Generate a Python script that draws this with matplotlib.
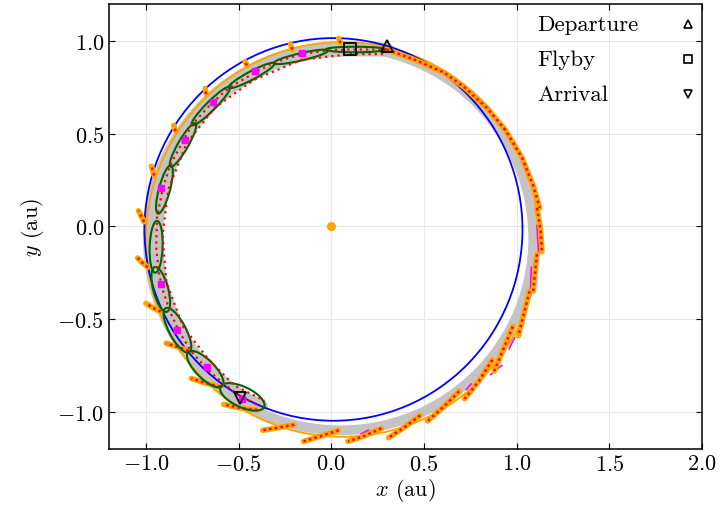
import matplotlib
matplotlib.use("Agg")
import matplotlib.pyplot as plt
from matplotlib.patches import Ellipse

matplotlib.rcParams['font.family'] = 'serif'
matplotlib.rcParams['font.serif'] = ['cmr10']
matplotlib.rcParams['mathtext.fontset'] = 'cm'
matplotlib.rcParams['axes.formatter.use_mathtext'] = True
matplotlib.rcParams['font.size'] = 16

# orbits: (centre x, centre y, width, height)
earth_orbit = (0.012, -0.016, 2.04, 2.065)
target_orbit = (0.06, -0.07, 2.12, 2.13)
band_orbit = (0.05, -0.065, 2.08, 2.07)

# nominal inner transfer path (departure -> flyby -> arrival)
inner_x = [0.30, 0.10, -0.02, -0.16, -0.31, -0.43, -0.55, -0.65, -0.75, -0.80, -0.87, -0.91,
           -0.94, -0.945, -0.93, -0.91, -0.87, -0.82, -0.75, -0.67, -0.58, -0.48, -0.38]
inner_y = [0.955, 0.955, 0.95, 0.93, 0.885, 0.82, 0.75, 0.66, 0.55, 0.46, 0.33, 0.20,
           0.05, -0.11, -0.25, -0.34, -0.46, -0.57, -0.68, -0.77, -0.85, -0.925, -0.97]
inner2_x = [0.28, 0.10, -0.16, -0.42, -0.63, -0.78, -0.88, -0.91, -0.89, -0.80, -0.66, -0.52, -0.36]
inner2_y = [0.93, 0.93, 0.90, 0.79, 0.64, 0.45, 0.20, -0.05, -0.30, -0.54, -0.72, -0.86, -0.94]

# node positions along the inner path
node_x = [-0.16, -0.41, -0.64, -0.79, -0.92, -0.92, -0.83, -0.67, -0.48]
node_y = [0.935, 0.84, 0.67, 0.465, 0.205, -0.31, -0.56, -0.76, -0.93]

# uncertainty ellipses: centre, major, minor, angle (deg)
ell_cx = [0.13, -0.165, -0.43, -0.65, -0.80, -0.90, -0.945, -0.92, -0.83, -0.68, -0.48]
ell_cy = [0.955, 0.915, 0.815, 0.65, 0.44, 0.20, -0.11, -0.34, -0.56, -0.77, -0.92]
ell_w = [0.32, 0.30, 0.28, 0.29, 0.27, 0.27, 0.28, 0.25, 0.27, 0.26, 0.26]
ell_h = [0.03, 0.04, 0.045, 0.05, 0.055, 0.06, 0.07, 0.08, 0.09, 0.10, 0.11]
ell_ang = [0, 13, 28, 45, 60, 75, 88, 105, 118, 135, 155]

# outer arcs of the propagated trajectory
arcs = [
    ([0.30, 0.45, 0.61, 0.72, 0.84, 0.94, 1.03, 1.09, 1.125],
     [0.955, 0.90, 0.83, 0.75, 0.64, 0.52, 0.37, 0.22, 0.10]),
    ([1.11, 1.13, 1.137], [0.10, -0.02, -0.135]),
    ([1.11, 1.10, 1.09], [-0.15, -0.25, -0.35]),
    ([1.07, 1.04, 1.01], [-0.35, -0.47, -0.59]),
    ([0.98, 0.93, 0.88], [-0.54, -0.66, -0.78]),
    ([0.87, 0.80, 0.72], [-0.72, -0.83, -0.93]),
    ([0.69, 0.61, 0.52], [-0.89, -0.97, -1.05]),
    ([0.48, 0.40, 0.31], [-1.02, -1.08, -1.14]),
    ([0.27, 0.18, 0.09], [-1.09, -1.13, -1.16]),
    ([0.04, -0.05, -0.15], [-1.10, -1.13, -1.16]),
    ([-0.20, -0.28, -0.37], [-1.07, -1.085, -1.10]),
    ([-0.40, -0.49, -0.58], [-0.99, -0.98, -0.96]),
    ([-0.60, -0.68, -0.755], [-0.865, -0.845, -0.82]),
    ([-0.77, -0.83, -0.89], [-0.67, -0.65, -0.63]),
    ([-0.92, -0.96, -1.0], [-0.46, -0.44, -0.415]),
    ([-0.99, -1.02, -1.045], [-0.22, -0.195, -0.17]),
    ([-1.01, -1.025, -1.04], [0.025, 0.055, 0.085]),
    ([-0.955, -0.97], [0.275, 0.325]),
    ([-0.84, -0.85], [0.515, 0.545]),
    ([-0.675, -0.68], [0.715, 0.745]),
    ([-0.455, -0.465], [0.87, 0.89]),
    ([-0.21, -0.22], [0.955, 0.985]),
    ([0.05, 0.04], [0.99, 1.015]),
]
magenta_segs = [
    ([1.11, 1.12], [0.005, -0.155]),
    ([1.08, 1.075], [-0.22, -0.34]),
    ([0.99, 0.96], [-0.60, -0.66]),
    ([0.92, 0.86], [-0.75, -0.80]),
    ([0.73, 0.755], [-0.88, -0.85]),
    ([0.40, 0.45], [-1.07, -1.04]),
    ([0.16, 0.20], [-1.12, -1.10]),
]

dep = (0.30, 0.975)
flyby = (0.10, 0.955)
arr = (-0.49, -0.925)

legend_labels = ['Departure', 'Flyby', 'Arrival']
legend_markers = ['^', 's', 'v']

fig = plt.figure(figsize=(7.2, 5.1), dpi=100)
ax = fig.add_axes([0.151, 0.118, 0.824, 0.872])

# gray band
cx, cy, w, h = band_orbit
ax.add_patch(Ellipse((cx, cy), w, h, fill=False, color='#c4c4c4', lw=7, zorder=1))
ax.plot(inner_x, inner_y, color='#c4c4c4', lw=10, solid_capstyle='round', zorder=1)

cx, cy, w, h = earth_orbit
ax.add_patch(Ellipse((cx, cy), w, h, fill=False, color='blue', lw=1.3, zorder=3))
cx, cy, w, h = target_orbit
ax.add_patch(Ellipse((cx, cy), w, h, fill=False, color='orange', lw=1.4, zorder=2))

for xs, ys in magenta_segs:
    ax.plot(xs, ys, color='magenta', lw=1.2, zorder=3)
for xs, ys in arcs:
    ax.plot(xs, ys, color='orange', lw=4, solid_capstyle='round', zorder=4)
    ax.plot(xs, ys, color='red', lw=1.8, ls=(0, (1, 1.3)), zorder=5)

for i in range(len(ell_cx)):
    ax.add_patch(Ellipse((ell_cx[i], ell_cy[i]), ell_w[i], ell_h[i], angle=ell_ang[i],
                         fill=False, color='#006400', lw=1.5, zorder=6))

ax.plot(inner_x, inner_y, color='red', lw=1.6, ls=(0, (1, 1.8)), zorder=7)
ax.plot(inner2_x, inner2_y, color='red', lw=1.6, ls=(0, (1, 1.8)), zorder=7)
ax.plot(node_x, node_y, 's', color='magenta', ms=3.8, zorder=8)

ax.plot(0, 0, 'o', color='orange', ms=5.5, zorder=8)
ax.plot(*dep, '^', mfc='none', mec='black', ms=8, mew=1.3, zorder=9)
ax.plot(*flyby, 's', mfc='none', mec='black', ms=8, mew=1.3, zorder=9)
ax.plot(*arr, 'v', mfc='none', mec='black', ms=8, mew=1.3, zorder=9)

ax.set_xlim(-1.2, 2.0)
ax.set_ylim(-1.2, 1.2)
ax.set_aspect('equal')
ax.set_xticks([-1.0, -0.5, 0.0, 0.5, 1.0, 1.5, 2.0])
ax.set_yticks([-1.0, -0.5, 0.0, 0.5, 1.0])
ax.grid(True, color='#e6e6e6', lw=0.8)
ax.set_axisbelow(True)
ax.tick_params(direction='in', top=True, right=True, length=4, labelsize=16)
for s in ax.spines.values():
    s.set_linewidth(1.1)
ax.set_xlabel(r'$x$ (au)', fontsize=16, labelpad=2)
ax.set_ylabel(r'$y$ (au)', fontsize=16, labelpad=8)

# legend: labels left aligned, markers on the right
row_y = [0.955, 0.876, 0.798]
for lab, mk, yy in zip(legend_labels, legend_markers, row_y):
    ax.text(0.722, yy, lab, transform=ax.transAxes, ha='left', va='center',
            fontsize=16.5, zorder=10)
    ax.plot(0.976, yy, mk, transform=ax.transAxes, mfc='none', mec='black',
            ms=6, mew=1.2, zorder=10, clip_on=False)

fig.savefig('out.png', dpi=100)
